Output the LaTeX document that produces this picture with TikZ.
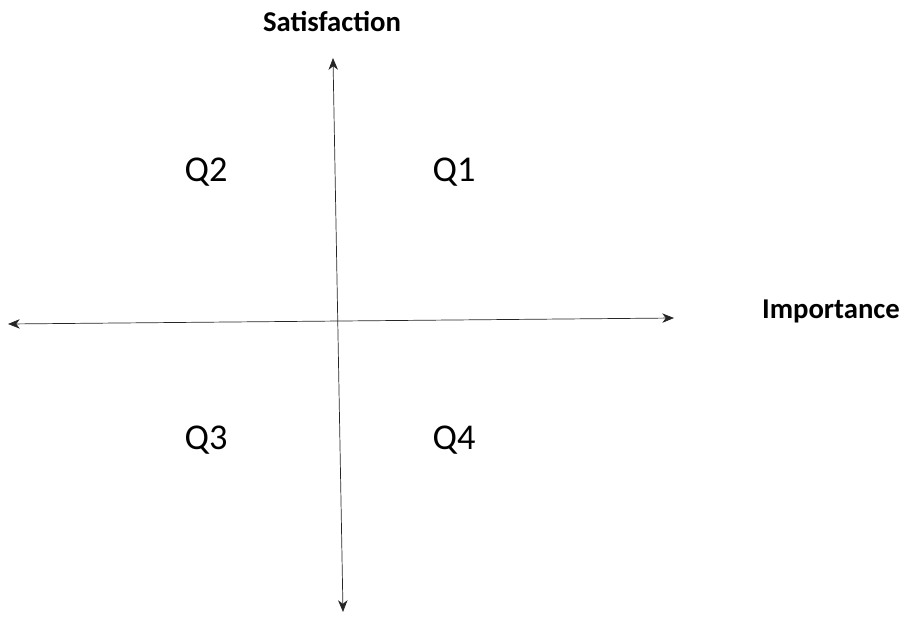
\documentclass[tikz,border=0pt]{standalone}
\usepackage{fontspec}
\setmainfont{Carlito}
\usepackage{tikz}
\usetikzlibrary{arrows.meta}

\begin{document}
\begin{tikzpicture}[x=0.03cm,y=-0.03cm,
    axislbl/.style={font=\bfseries\fontsize{24.5}{28}\selectfont},
    quad/.style={font=\fontsize{31}{34}\selectfont},
    axisline/.style={semithick,black!85,<->,>={Stealth[length=10pt,width=8pt,inset=3pt]}}]
    \useasboundingbox (0,0) rectangle (903,619);
    % Axis end points
    \coordinate (top) at (333,58);
    \coordinate (bot) at (343,612);
    \coordinate (left) at (8,324);
    \coordinate (right) at (674,318);
    % Axes
    \draw[axisline] (top) -- (bot);
    \draw[axisline] (left) -- (right);
    % Axis labels
    \node[axislbl] (sat) at (332,22) {Satisfaction};
    \node[axislbl] (imp) at (831,311) {Importance};
    % Quadrants
    \node[quad] (q1) at (454,172) {Q1};
    \node[quad] (q2) at (206,172) {Q2};
    \node[quad] (q3) at (206,440) {Q3};
    \node[quad] (q4) at (454,440) {Q4};
\end{tikzpicture}
\end{document}
